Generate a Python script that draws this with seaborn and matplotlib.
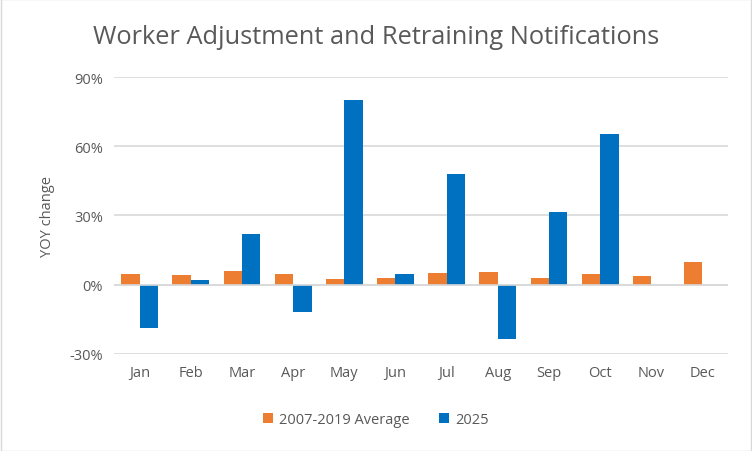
import pandas as pd
import numpy as np
import matplotlib
matplotlib.use("Agg")
import matplotlib.pyplot as plt
import matplotlib.ticker as mtick
import seaborn as sns

sns.set_style("white")
plt.rcParams['font.family'] = ['Open Sans', 'DejaVu Sans']

# Data (YOY change, %)
months = ["Jan", "Feb", "Mar", "Apr", "May", "Jun",
          "Jul", "Aug", "Sep", "Oct", "Nov", "Dec"]
avg_2007_2019 = [4.6, 4.2, 5.9, 4.6, 2.5, 2.9, 5.1, 5.5, 2.9, 4.6, 3.8, 9.9]
y2025 = [-18.7, 2.0, 22.0, -11.9, 80.0, 4.6, 48.1, -23.6, 31.6, 65.5, np.nan, np.nan]
series = ["2007-2019 Average", "2025"]
colors = ["#ED7D31", "#0070C0"]

df = pd.DataFrame({
    "month": months * 2,
    "series": [series[0]] * 12 + [series[1]] * 12,
    "value": avg_2007_2019 + y2025,
}).dropna()

fig = plt.figure(figsize=(7.52, 4.52), dpi=100)
ax = fig.add_axes([0.1516, 0.2153, 0.8165, 0.6121])

sns.barplot(data=df, x="month", y="value", hue="series", order=months,
            hue_order=series, palette=colors, width=0.72, saturation=1,
            errorbar=None, linewidth=0, ax=ax, zorder=2)

ax.set_ylim(-30, 90)
ax.set_yticks([-30, 0, 30, 60, 90])
ax.yaxis.set_major_formatter(mtick.FuncFormatter(lambda v, p: f"{v:.0f}%"))
ax.grid(axis="y", color="#D9D9D9", linewidth=1.2, zorder=0)
ax.axhline(0, color="#D9D9D9", linewidth=1.2, zorder=3)
ax.set_axisbelow(True)
for s in ax.spines.values():
    s.set_visible(False)
ax.tick_params(axis="both", length=0, labelsize=10.5, colors="#595959", pad=8)
ax.set_xlabel("")
ax.set_ylabel("YOY change", fontsize=10.5, color="#595959", labelpad=10)

fig.text(0.5, 0.918, "Worker Adjustment and Retraining Notifications",
         ha="center", va="center", fontsize=18.3, color="#595959")

handles, labels = ax.get_legend_handles_labels()
leg = fig.legend(handles, labels, loc="center", bbox_to_anchor=(0.5, 0.07), ncol=2,
                 frameon=False, fontsize=10.5, handlelength=0.7, handleheight=0.7,
                 columnspacing=2.0, handletextpad=0.4)
for t in leg.get_texts():
    t.set_color("#595959")
ax.legend_.remove()

# chart border
fig.patches.append(plt.Rectangle((0.001, 0.001), 0.998, 0.998, transform=fig.transFigure,
                                 fill=False, edgecolor="#D9D9D9", linewidth=1))

fig.savefig("out.png", dpi=100)
